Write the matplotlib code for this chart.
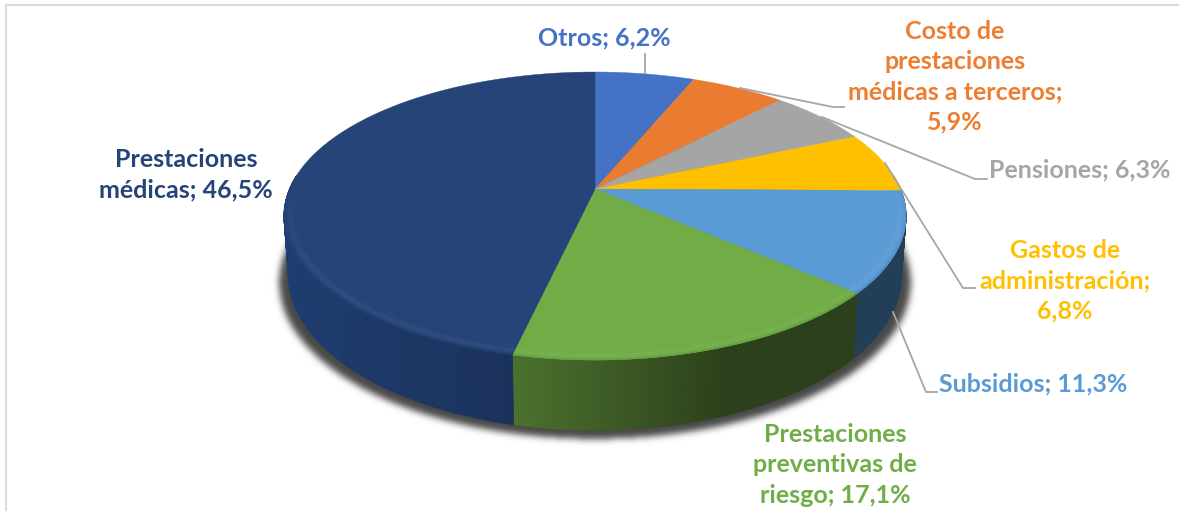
import numpy as np
import matplotlib
matplotlib.use("Agg")
import matplotlib.pyplot as plt
from matplotlib.collections import PolyCollection
from matplotlib.colors import to_rgb
from matplotlib.patches import Polygon
from matplotlib.path import Path

categories = ["Otros", "Costo de prestaciones médicas a terceros", "Pensiones",
              "Gastos de administración", "Subsidios",
              "Prestaciones preventivas de riesgo", "Prestaciones médicas"]
values = [6.2, 5.9, 6.3, 6.8, 11.3, 17.1, 46.5]
label_texts = ["Otros; 6,2%", "Costo de\nprestaciones\nmédicas a terceros;\n5,9%", "Pensiones; 6,3%",
               "Gastos de\nadministración;\n6,8%", "Subsidios; 11,3%",
               "Prestaciones\npreventivas de\nriesgo; 17,1%", "Prestaciones\nmédicas; 46,5%"]
colors = ["#4472C4", "#E97C30", "#A5A5A5", "#FFC000", "#5B9BD5", "#70AD47", "#264478"]
label_colors = ["#4472C4", "#ED7D31", "#A5A5A5", "#FFC000", "#5B9BD5", "#70AD47", "#264478"]
side_left = ["#2E4D85", "#9C5320", "#6E6E6E", "#A88000", "#233F57", "#4C722E", "#1F3D70"]
side_right = ["#2E4D85", "#9C5320", "#6E6E6E", "#A88000", "#233F57", "#2C401B", "#1A2E55"]
label_pos = [(604, 38), (955, 77), (1080, 170), (1065, 281), (1033, 384), (835, 465), (186, 175)]
leaders = [[(645, 54), (645, 73)],
           [(740, 88), (833, 107), (844, 107)],
           [(822, 117), (975, 179), (987, 179)],
           [(885, 163), (963, 288), (975, 288)],
           [(893, 312), (926, 392), (937, 392)]]

W, H = 1179, 511
CX, CY, R, K, B, DEPTH = 595.0, 189.0, 305.5, 0.1875, -103.5, 57.0
BOTTOM_R = R * 0.985


def project(theta, r=1.0, depth=0.0, radius=R):
    X, Y = r * np.sin(theta), r * np.cos(theta)
    den = 1 + K * Y
    return CX + radius * X / den, (CY + depth + B * Y) / den


def lerp(a, b, t):
    a, b = np.array(to_rgb(a)), np.array(to_rgb(b))
    return a + (b - a) * t


fig = plt.figure(figsize=(W / 100, H / 100), dpi=100, facecolor="white")
ax = fig.add_axes([0, 0, 1, 1])
ax.set_xlim(0, W)
ax.set_ylim(H, 0)
ax.axis("off")

# frame
ax.plot([5.5, 5.5, W], [H, 5.5, 5.5], color="#DCDCDC", lw=1.5, solid_joinstyle="miter", zorder=1)

# soft shadow below the disc
t = np.linspace(0, 2 * np.pi, 500)
sx, sy = project(t, depth=DEPTH + 7, radius=R * 1.015)
gx, gy = np.meshgrid(np.arange(W) + .5, np.arange(H + 40) + .5)
mask = Path(np.c_[sx, sy]).contains_points(np.c_[gx.ravel(), gy.ravel()]).reshape(gx.shape).astype(float)
u = np.arange(-12, 13)
g = np.exp(-u ** 2 / (2 * 3.4 ** 2))
g /= g.sum()
mask = np.apply_along_axis(lambda v: np.convolve(v, g, mode="same"), 0, mask)
mask = np.apply_along_axis(lambda v: np.convolve(v, g, mode="same"), 1, mask)
rgba = np.zeros(mask.shape + (4,))
rgba[..., :3] = 0.2
rgba[..., 3] = mask * 0.9
ax.imshow(rgba[:H], extent=(0, W, H, 0), aspect="auto", zorder=2, interpolation="bilinear")
ax.set_xlim(0, W)
ax.set_ylim(H, 0)

fractions = np.array(values) / np.sum(values)
edges = np.concatenate([[0], np.cumsum(fractions)]) * 2 * np.pi

# side wall
polys, cols = [], []
for i in range(len(values)):
    a0, a1 = edges[i], edges[i + 1]
    ts = np.linspace(a0, a1, max(int((a1 - a0) * 160), 2))
    xs, _ = project(ts)
    x_lo, x_hi = xs.min(), xs.max()
    for p, q in zip(ts[:-1], ts[1:]):
        if np.cos((p + q) / 2) > 0.1:
            continue
        x1, y1 = project(p)
        x2, y2 = project(q)
        x3, y3 = project(q, depth=DEPTH, radius=BOTTOM_R)
        x4, y4 = project(p, depth=DEPTH, radius=BOTTOM_R)
        polys.append([(x1, y1), (x2, y2), (x3, y3), (x4, y4)])
        f = ((x1 + x2) / 2 - x_lo) / max(x_hi - x_lo, 1)
        if i == 5:
            f = 1 - min(f * 1.6, 1)          # bright on the left of the green wall
            cols.append(lerp(side_right[i], side_left[i], f))
        else:
            cols.append(lerp(side_left[i], side_right[i], f))
ax.add_collection(PolyCollection(polys, facecolors=cols, edgecolors=cols, linewidths=.6, zorder=3))

# top face
for i in range(len(values)):
    ts = np.linspace(edges[i], edges[i + 1], 120)
    x, y = project(ts)
    ax.add_patch(Polygon(np.r_[[[CX, CY]], np.c_[x, y]], closed=True, facecolor=colors[i],
                         edgecolor=colors[i], lw=.3, zorder=4))

# faint bevel on the front rim
rings = np.linspace(0.965, 1.0, 7)
polys, cols = [], []
for i in range(len(values)):
    ts = np.linspace(edges[i], edges[i + 1], max(int((edges[i + 1] - edges[i]) * 100), 2))
    for p, q in zip(ts[:-1], ts[1:]):
        w = np.clip((0.1 - np.cos((p + q) / 2)) / 0.6, 0, 1)
        if w <= 0:
            continue
        for r0, r1 in zip(rings[:-1], rings[1:]):
            rm = (r0 + r1) / 2
            pos = (rm - rings[0]) / (rings[-1] - rings[0])
            light = 0.05 * w * np.sin(np.pi * min(pos * 1.2, 1))
            dark = 0.12 * w * max(pos - 0.8, 0) / 0.2
            c = lerp(colors[i], "#FFFFFF", light) * (1 - dark)
            xa, ya = project(p, r0)
            xb, yb = project(q, r0)
            xc, yc = project(q, r1)
            xd, yd = project(p, r1)
            polys.append([(xa, ya), (xb, yb), (xc, yc), (xd, yd)])
            cols.append(c)
ax.add_collection(PolyCollection(polys, facecolors=cols, edgecolors=cols, linewidths=.3, zorder=5))

# leader lines
for pts in leaders:
    ax.plot(*zip(*pts), color="#A6A6A6", lw=1.3, zorder=6, solid_joinstyle="miter")

# labels
for txt, c, (x, y) in zip(label_texts, label_colors, label_pos):
    ax.text(x, y, txt, color=c, ha="center", va="center", family="Lato", weight="bold",
            fontsize=18, linespacing=1.37, zorder=7)

fig.savefig("out.png", dpi=100, facecolor="white")
